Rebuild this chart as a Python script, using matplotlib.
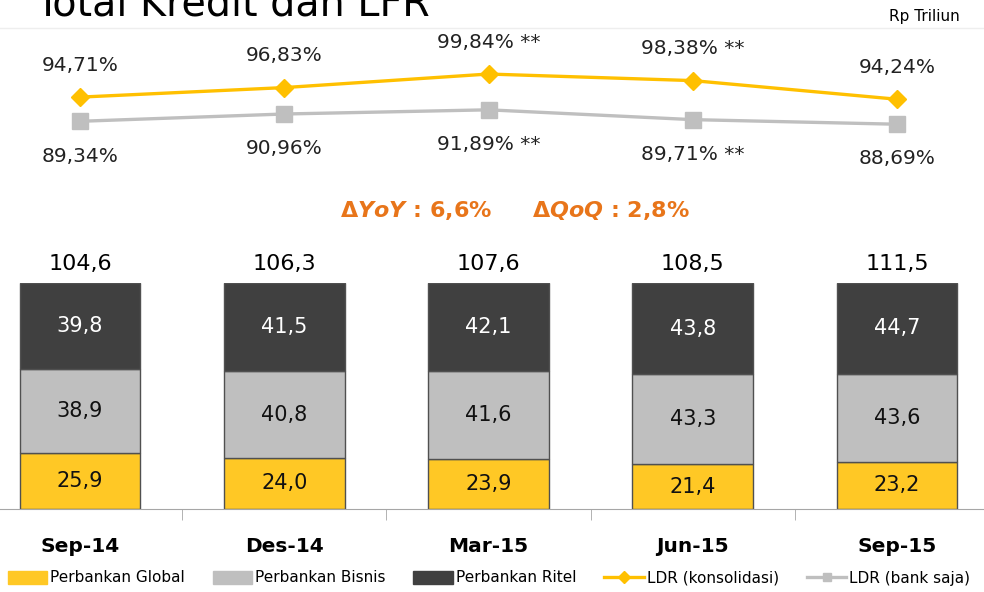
import numpy as np
import matplotlib
matplotlib.use("Agg")
import matplotlib.pyplot as plt
from matplotlib.lines import Line2D
from matplotlib.patches import Patch

periods = ["Sep-14", "Des-14", "Mar-15", "Jun-15", "Sep-15"]
global_ = [25.9, 24.0, 23.9, 21.4, 23.2]
bisnis = [38.9, 40.8, 41.6, 43.3, 43.6]
ritel = [39.8, 41.5, 42.1, 43.8, 44.7]
totals = [104.6, 106.3, 107.6, 108.5, 111.5]
ldr_kons = [94.71, 96.83, 99.84, 98.38, 94.24]
ldr_bank = [89.34, 90.96, 91.89, 89.71, 88.69]
flag = ["", "", " **", " **", ""]

YEL = "#FFC825"
GRY = "#BFBFBF"
DRK = "#404040"
ORG = "#E8751A"

plt.rcParams['font.family'] = ['DejaVu Sans']

fig = plt.figure(figsize=(9.84, 5.92), dpi=100)
W, H = 984, 592
xlim = (-80 / 204.25, (W - 80) / 204.25)


def fc(txt):
    return txt.replace(".", ",")


# top: LDR lines
axl = fig.add_axes([0, 1 - 180 / H, 1, 140 / H])
x = np.arange(len(periods))
axl.plot(x, ldr_kons, color="#FFC000", lw=2.4, marker="D", ms=9, zorder=3)
axl.plot(x, ldr_bank, color=GRY, lw=2.4, marker="s", ms=11, zorder=2)
for i in range(len(x)):
    axl.annotate(fc(f"{ldr_kons[i]:.2f}%") + flag[i], (x[i], ldr_kons[i]),
                 xytext=(0, 23), textcoords="offset points", ha="center",
                 va="center", fontsize=14.5, color="#222222")
    axl.annotate(fc(f"{ldr_bank[i]:.2f}%") + flag[i], (x[i], ldr_bank[i]),
                 xytext=(0, -25), textcoords="offset points", ha="center",
                 va="center", fontsize=14.5, color="#222222")
axl.set_xlim(*xlim)
axl.set_ylim(76.3, 107.4)
axl.axis("off")

# bottom: 100% stacked bars
axb = fig.add_axes([0, 1 - 509 / H, 1, 226 / H])
tot = np.array(global_) + np.array(bisnis) + np.array(ritel)
g = np.array(global_) / tot * 100
b = np.array(bisnis) / tot * 100
r = np.array(ritel) / tot * 100
bw = 0.59
axb.bar(x, g, bw, color=YEL, edgecolor="#505050", lw=1)
axb.bar(x, b, bw, bottom=g, color=GRY, edgecolor="#505050", lw=1)
axb.bar(x, r, bw, bottom=g + b, color=DRK, edgecolor="#505050", lw=1)
for i in range(len(x)):
    axb.text(x[i], g[i] / 2, fc(f"{global_[i]:.1f}"), ha="center", va="center", fontsize=15, color="#111111")
    axb.text(x[i], g[i] + b[i] / 2, fc(f"{bisnis[i]:.1f}"), ha="center", va="center", fontsize=15, color="#111111")
    axb.text(x[i], g[i] + b[i] + r[i] / 2, fc(f"{ritel[i]:.1f}"), ha="center", va="center", fontsize=15, color="white")
    axb.text(x[i], 104, fc(f"{totals[i]:.1f}"), ha="center", va="bottom", fontsize=16, color="black")
for s in ["top", "left", "right"]:
    axb.spines[s].set_visible(False)
axb.spines["bottom"].set_color("#A6A6A6")
axb.set_yticks([])
axb.set_xticks(x)
axb.set_xticklabels(periods, fontsize=14.5, fontweight="bold")
axb.tick_params(axis="x", length=0, pad=20)
axb.set_xticks(np.arange(-0.5, 4.6, 1), minor=True)
axb.tick_params(axis="x", which="minor", length=8, color="#A6A6A6")
axb.set_xlim(*xlim)
axb.set_ylim(0, 100)

# texts
fig.text(35 / W, 1 - 16 / H, "Total Kredit dan LFR", fontsize=28.5, va="baseline")
fig.text(960 / W, 1 - 17 / H, "Rp Triliun", fontsize=11, ha="right", va="center")
fig.add_artist(Line2D([0, 1], [1 - 28 / H] * 2, color="#EEEEEE", lw=1))
fig.text(416 / W, 1 - 210 / H, r"$\mathbf{\Delta}\mathbfit{YoY}$ : 6,6%", fontsize=16,
         fontweight="bold", color=ORG, ha="center", va="center")
fig.text(611 / W, 1 - 210 / H, r"$\mathbf{\Delta}\mathbfit{QoQ}$ : 2,8%", fontsize=16,
         fontweight="bold", color=ORG, ha="center", va="center")

handles = [
    Patch(color=YEL, label="Perbankan Global"),
    Patch(color=GRY, label="Perbankan Bisnis"),
    Patch(color=DRK, label="Perbankan Ritel"),
    Line2D([], [], color="#FFC000", lw=2.4, marker="D", ms=6, label="LDR (konsolidasi)"),
    Line2D([], [], color=GRY, lw=2.4, marker="s", ms=6, label="LDR (bank saja)"),
]
fig.legend(handles=handles, loc="center", bbox_to_anchor=(0.497, 1 - 578 / H), ncol=5,
           frameon=False, fontsize=11, handlelength=2.6, handleheight=0.9,
           columnspacing=1.8, handletextpad=0.2)

fig.savefig("out.png", dpi=100)
